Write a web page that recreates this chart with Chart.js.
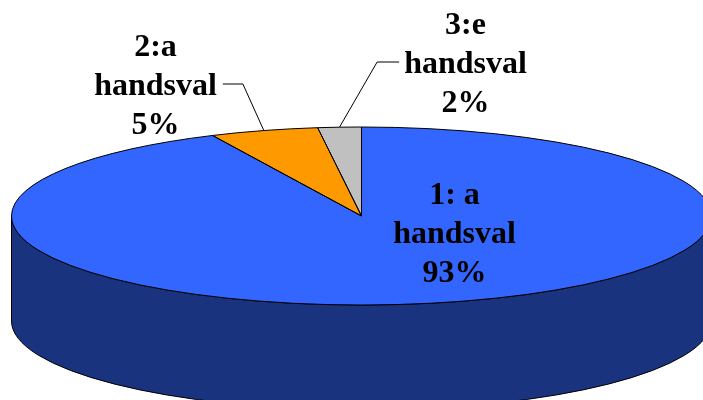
<!DOCTYPE html>
<html>
<head>
<meta charset="utf-8">
<script src="https://cdn.jsdelivr.net/npm/chart.js@4"></script>
<style>
  html, body { margin: 0; padding: 0; background: #fff; }
  #wrap { width: 703px; height: 400px; position: relative; }
</style>
</head>
<body>
<div id="wrap"><canvas id="pieChart"></canvas></div>
<script>
// data
var categories = ["1: a handsval", "2:a handsval", "3:e handsval"];
var labelLines = [["1: a", "handsval"], ["2:a", "handsval"], ["3:e", "handsval"]];
var values = [93, 5, 2];
var topColors = ["#3366FF", "#FF9900", "#C0C0C0"];
var sideColors = ["#1A337F", "#805000", "#606060"];

// look of the 3d pie
var RX = 350, RY = 89, DEPTH = 105;
var LABEL_FONT = "bold 32px 'Liberation Serif'";
// label anchor (middle line baseline) relative to pie centre, and leader line side
var labelPos = [
    { dx: 93, dy: 27, leader: false },
    { dx: -206, dy: -121, leader: "right" },
    { dx: 104, dy: -143, leader: "left" }
];

var total = values.reduce(function (a, b) { return a + b; }, 0);

function ellipsePath(ctx, cx, cy, s, e, ccw) {
    ctx.ellipse(cx, cy, RX, RY, 0, s, e, ccw);
}

var pie3d = {
    id: "pie3d",
    beforeDatasetsDraw: function (chart) {
        var ctx = chart.ctx;
        var meta = chart.getDatasetMeta(0);
        var arc0 = meta.data[0];
        var cx = arc0.x, cy = arc0.y;
        // side walls (front half only)
        meta.data.forEach(function (arc, i) {
            [0, Math.PI * 2].forEach(function (k) {
                var lo = Math.max(arc.startAngle, k);
                var hi = Math.min(arc.endAngle, k + Math.PI);
                if (lo >= hi) return;
                ctx.save();
                ctx.beginPath();
                ellipsePath(ctx, cx, cy, lo, hi, false);
                ellipsePath(ctx, cx, cy + DEPTH, hi, lo, true);
                ctx.closePath();
                ctx.fillStyle = sideColors[i];
                ctx.fill();
                ctx.lineWidth = 1;
                ctx.strokeStyle = "#000";
                ctx.stroke();
                ctx.restore();
            });
        });
        // squash the circle into an ellipse
        var r = arc0.outerRadius;
        ctx.save();
        ctx.translate(cx, cy);
        ctx.scale(RX / r, RY / r);
        ctx.translate(-cx, -cy);
    },
    afterDatasetsDraw: function (chart) {
        var ctx = chart.ctx;
        ctx.restore();
        var meta = chart.getDatasetMeta(0);
        var cx = meta.data[0].x, cy = meta.data[0].y;
        // outlines
        ctx.save();
        ctx.lineWidth = 1;
        ctx.strokeStyle = "#000";
        meta.data.forEach(function (arc) {
            ctx.beginPath();
            ctx.moveTo(cx, cy);
            ellipsePath(ctx, cx, cy, arc.startAngle, arc.endAngle, false);
            ctx.closePath();
            ctx.stroke();
        });
        ctx.restore();
    },
    afterDraw: function (chart) {
        var ctx = chart.ctx;
        var meta = chart.getDatasetMeta(0);
        var cx = meta.data[0].x, cy = meta.data[0].y;
        ctx.save();
        ctx.font = LABEL_FONT;
        ctx.fillStyle = "#000";
        ctx.textAlign = "center";
        ctx.textBaseline = "alphabetic";
        var lh = 39;
        meta.data.forEach(function (arc, i) {
            var p = labelPos[i];
            var x = cx + p.dx, y = cy + p.dy;
            var lines = labelLines[i].concat([Math.round(values[i] / total * 100) + "%"]);
            lines.forEach(function (t, j) {
                ctx.fillText(t, x, y + (j - 1) * lh);
            });
            if (p.leader) {
                var mid = (arc.startAngle + arc.endAngle) / 2;
                var ex = cx + RX * Math.cos(mid), ey = cy + RY * Math.sin(mid);
                var half = ctx.measureText(labelLines[i][1]).width / 2;
                var ly = y - 11;
                var sx = p.leader === "right" ? x + half + 6 : x - half - 5;
                var bx = p.leader === "right" ? sx + 20 : sx - 22;
                ctx.beginPath();
                ctx.moveTo(sx, ly);
                ctx.lineTo(bx, ly);
                ctx.lineTo(ex, ey);
                ctx.lineWidth = 1;
                ctx.strokeStyle = "#000";
                ctx.stroke();
            }
        });
        ctx.restore();
    }
};

new Chart(document.getElementById("pieChart"), {
    type: "pie",
    data: {
        labels: categories,
        datasets: [
            {
                data: values,
                backgroundColor: topColors,
                borderWidth: 0,
                clip: false
            }
        ]
    },
    options: {
        responsive: true,
        maintainAspectRatio: false,
        animation: false,
        events: [],
        layout: { padding: { left: 20, top: 32, right: 0, bottom: 0 } },
        plugins: {
            legend: { display: false },
            tooltip: { enabled: false }
        }
    },
    plugins: [pie3d]
});
</script>
</body>
</html>
